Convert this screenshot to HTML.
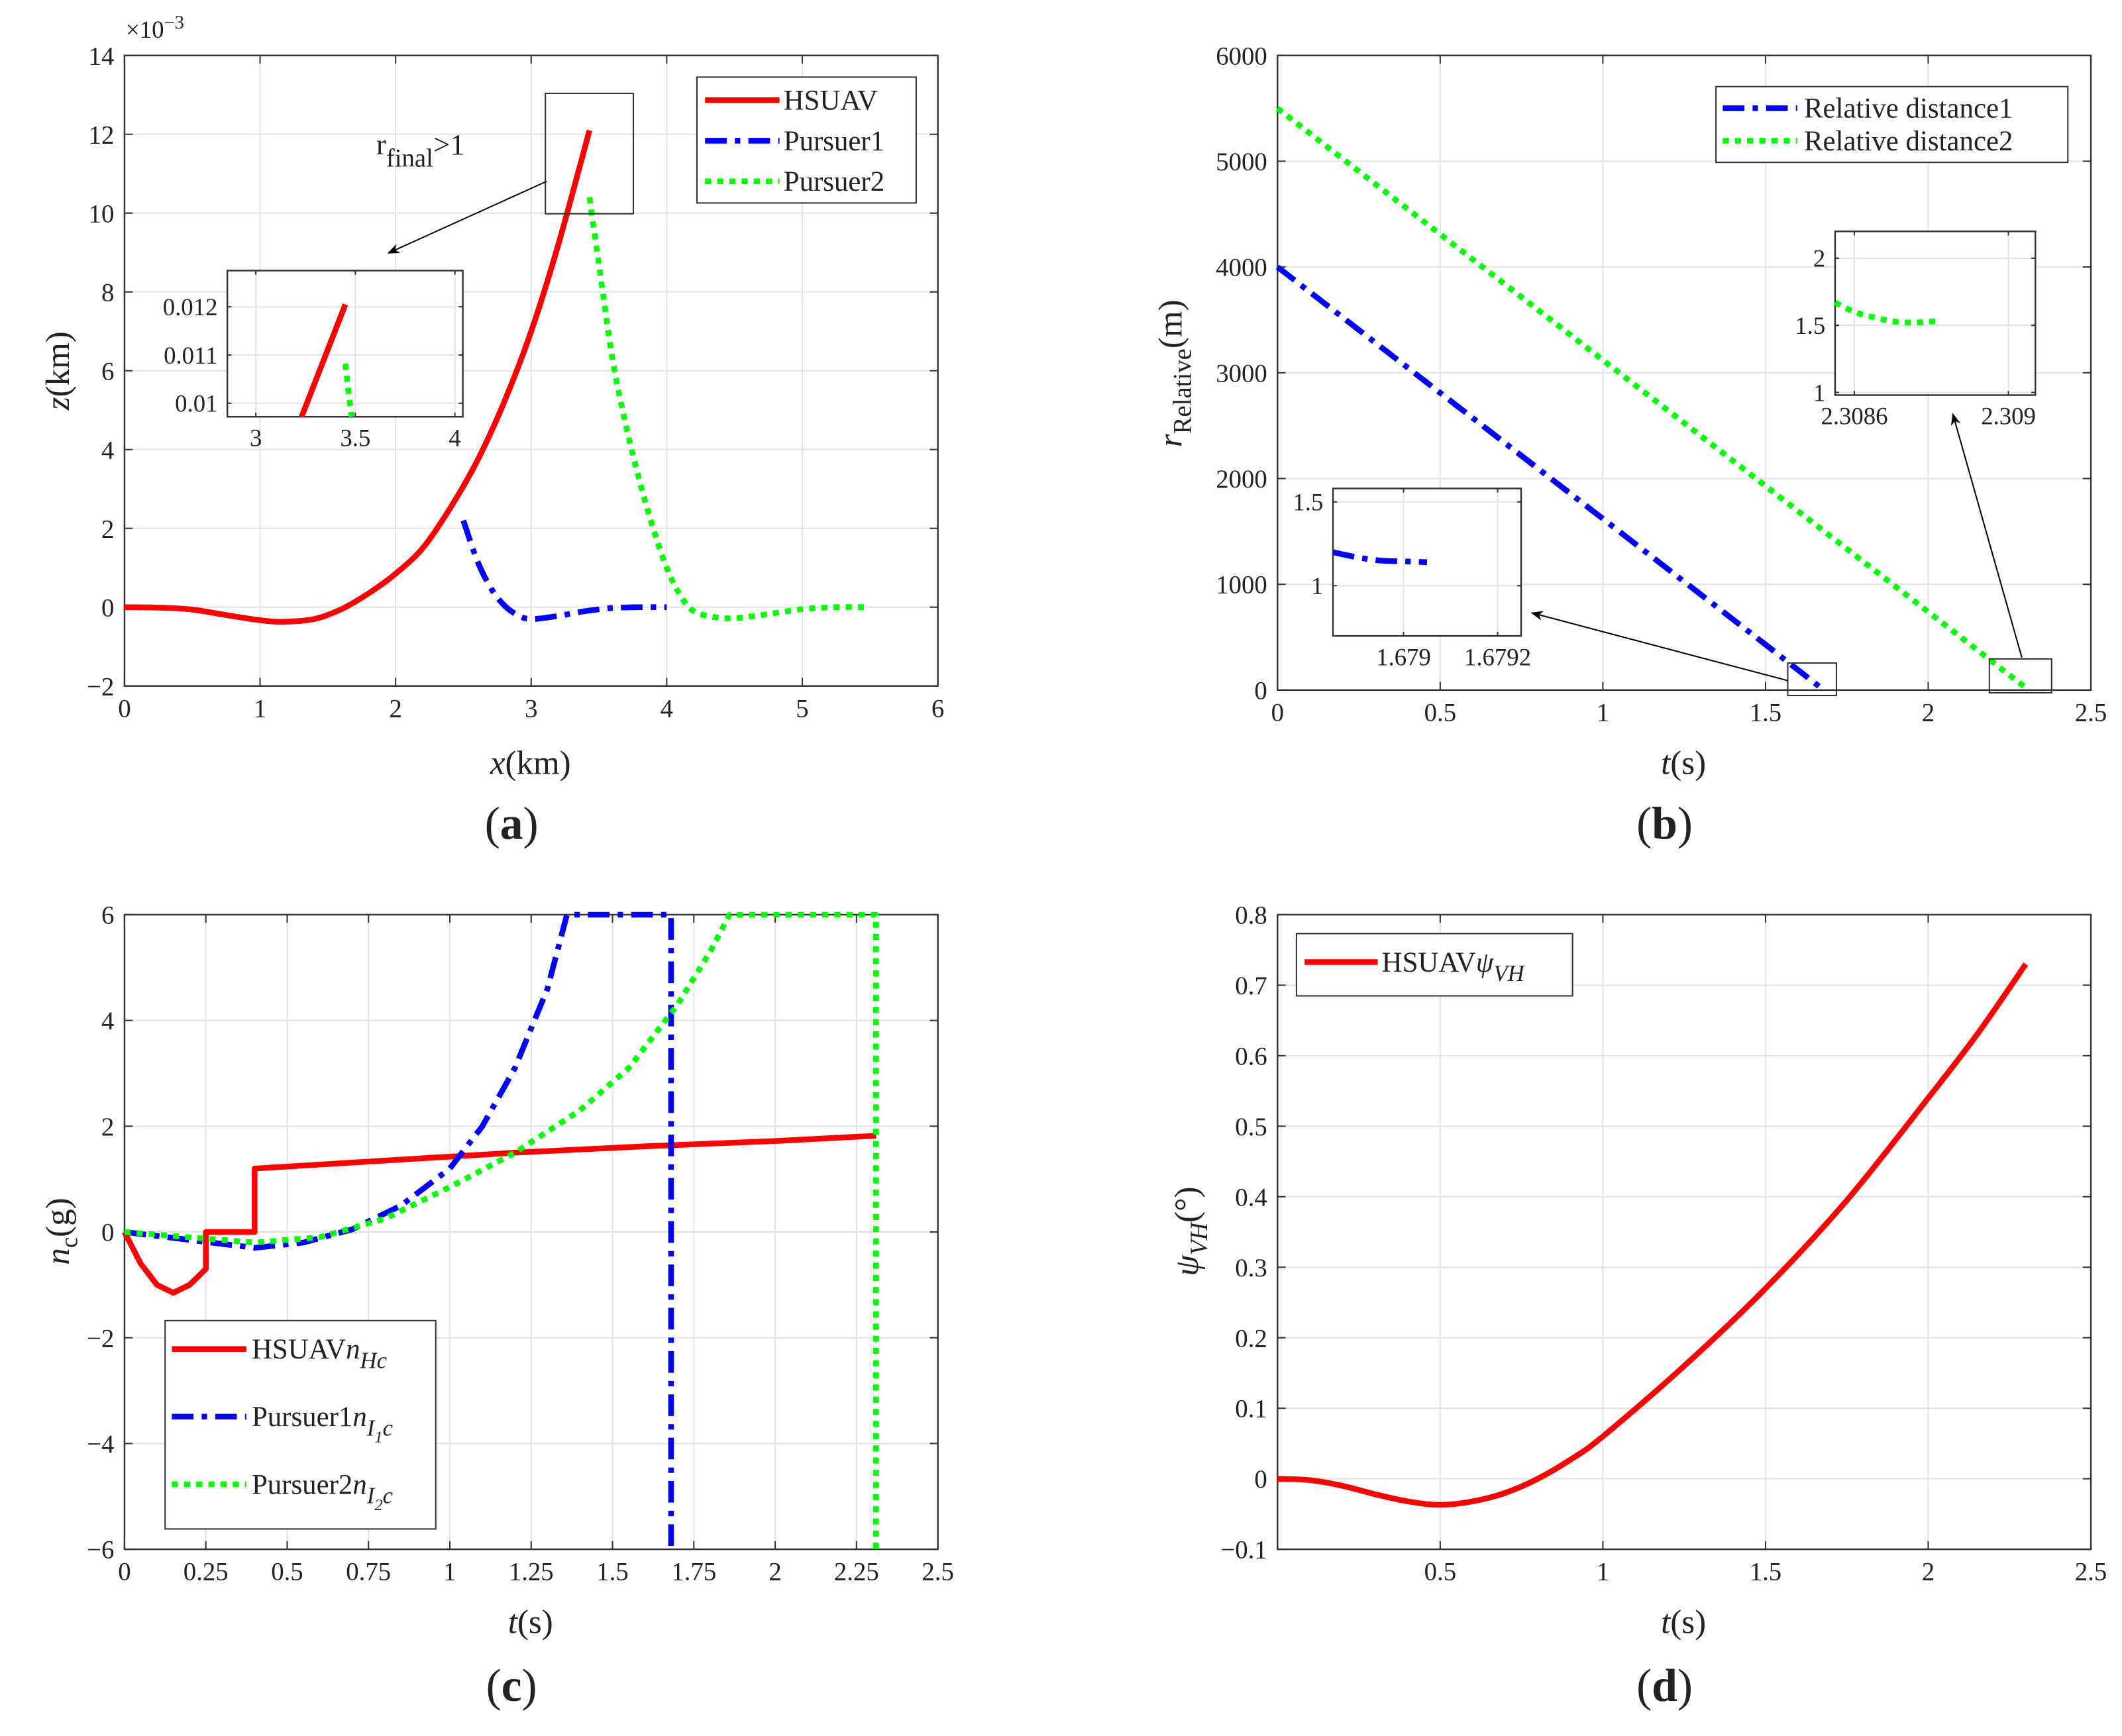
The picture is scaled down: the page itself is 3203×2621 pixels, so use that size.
<!DOCTYPE html>
<html><head><meta charset="utf-8"><style>
html,body{margin:0;padding:0;background:#fff;}
svg{display:block;font-family:"Liberation Serif",serif;}
text{font-family:"Liberation Serif",serif;fill:#222;}
</style></head><body>
<svg id="fig" width="3203" height="2621" viewBox="0 0 1568 1283" preserveAspectRatio="none" xmlns="http://www.w3.org/2000/svg" font-family="Liberation Serif, serif">
<defs><marker id="arr" viewBox="0 0 10 10" refX="9" refY="5" markerWidth="9" markerHeight="9" orient="auto-start-reverse"><path d="M0,1 L10,5 L0,9 L3,5 z" fill="#000"/></marker></defs>
</svg>
<script>
// Panel (a) data
const aHsuavX=[0,0.25,0.5,0.75,1,1.17,1.4,1.6,1.8,2,2.2,2.4,2.6,2.8,3,3.2,3.43];
const aHsuavZ=[0,-0.01,-0.06,-0.2,-0.33,-0.37,-0.3,-0.05,0.35,0.85,1.5,2.5,3.7,5.2,7.0,9.2,12.1];
const aP1X=[2.5,2.6,2.7,2.8,2.9,3,3.2,3.4,3.6,3.8,4];
const aP1Z=[2.2,1.2,0.5,0.05,-0.2,-0.3,-0.22,-0.1,-0.02,0,0];
const aP2X=[3.43,3.5,3.6,3.7,3.8,3.9,4,4.1,4.2,4.35,4.5,4.7,5,5.25,5.5];
const aP2Z=[10.4,8.7,6.3,4.6,3.2,2.0,1.0,0.3,-0.1,-0.25,-0.28,-0.2,-0.05,0,0];
const aXTicks=[0,1,2,3,4,5,6];
const aYTicks=[-2,0,2,4,6,8,10,12,14];
const aInsetRedX=[3.23,3.45];
const aInsetRedZ=[0.00972,0.01205];
const aInsetGreenX=[3.45,3.48];
const aInsetGreenZ=[0.01082,0.00972];
// Panel (b) data
const bR1T=[0,0.5,1,1.5,1.679];
const bR1=[4000,2810,1620,430,0];
const bR2T=[0,0.5,1,1.5,2,2.309];
const bR2=[5500,4310,3120,1930,740,0];
const bXTicks=[0,0.5,1,1.5,2,2.5];
const bYTicks=[0,1000,2000,3000,4000,5000,6000];
const bIn1T=[1.67885,1.6789,1.67895,1.679,1.67905];
const bIn1R=[1.2,1.17,1.15,1.145,1.14];
const bIn2T=[2.30855,2.3086,2.30865,2.3087,2.30875,2.30881];
const bIn2R=[1.67,1.6,1.56,1.53,1.52,1.53];
// Panel (c) data
const cHT=[0,0.05,0.1,0.15,0.2,0.25,0.25,0.4,0.4,0.8,1.2,1.6,2,2.31];
const cHN=[0,-0.6,-1.0,-1.15,-1.0,-0.7,0,0,1.2,1.35,1.5,1.62,1.72,1.82];
const cP1T=[0,0.2,0.4,0.55,0.7,0.85,1,1.1,1.2,1.3,1.36,1.68,1.68];
const cP1N=[0,-0.15,-0.3,-0.2,0.05,0.5,1.2,2,3.1,4.6,6,6,-6];
const cP2T=[0,0.2,0.4,0.6,0.8,1,1.2,1.4,1.55,1.7,1.8,1.86,2.31,2.31];
const cP2N=[0,-0.1,-0.2,-0.1,0.25,0.85,1.5,2.3,3.1,4.3,5.3,6,6,-6];
const cXTicks=[0,0.25,0.5,0.75,1,1.25,1.5,1.75,2,2.25,2.5];
const cYTicks=[-6,-4,-2,0,2,4,6];
// Panel (d) data
const dT=[0,0.1,0.2,0.3,0.4,0.5,0.6,0.7,0.8,0.9,1,1.25,1.5,1.75,2,2.15,2.3];
const dPsi=[0,-0.002,-0.01,-0.022,-0.032,-0.037,-0.032,-0.02,0,0.027,0.06,0.16,0.27,0.395,0.54,0.63,0.73];
const dXTicks=[0.5,1,1.5,2,2.5];
const dYTicks=[-0.1,0,0.1,0.2,0.3,0.4,0.5,0.6,0.7,0.8];

const NS="http://www.w3.org/2000/svg";
const svg=document.getElementById('fig');
function el(tag,attrs,parent,txt){const e=document.createElementNS(NS,tag);for(const k in attrs)e.setAttribute(k,attrs[k]);if(txt!==undefined)e.textContent=txt;(parent||svg).appendChild(e);return e;}
function scale(d0,d1,r0,r1){return v=>r0+(v-d0)/(d1-d0)*(r1-r0);}
const RED='#ff0000',BLUE='#0000ff',GREEN='#00ff00';
const STY={red:{stroke:RED,'stroke-width':4.2},blue:{stroke:BLUE,'stroke-width':4.2,'stroke-dasharray':'16,6,4,6'},green:{stroke:GREEN,'stroke-width':4.2,'stroke-dasharray':'4.5,4.5'}};

function axes(g,box,xd,yd,xt,yt,fmtx,fmty,fs,grid){
  const sx=scale(xd[0],xd[1],box[0],box[2]),sy=scale(yd[0],yd[1],box[3],box[1]);
  el('rect',{x:box[0],y:box[1],width:box[2]-box[0],height:box[3]-box[1],fill:'#fff',stroke:'none'},g);
  if(grid!==false){
    xt.forEach(v=>{const gl=el('line',{x1:sx(v),x2:sx(v),y1:box[1],y2:box[3],stroke:'#e3e3e3','stroke-width':1},g);});
    yt.forEach(v=>{const gl=el('line',{x1:box[0],x2:box[2],y1:sy(v),y2:sy(v),stroke:'#e3e3e3','stroke-width':1},g);});
  }
  const tl=Math.max(3,(box[2]-box[0])/100);
  xt.forEach(v=>{
    el('line',{x1:sx(v),x2:sx(v),y1:box[3],y2:box[3]-tl,stroke:'#333'},g);
    el('line',{x1:sx(v),x2:sx(v),y1:box[1],y2:box[1]+tl,stroke:'#333'},g);
    const t=el('text',{x:sx(v),y:box[3]+fs*1.2,'font-size':fs,'text-anchor':'middle'},g,fmtx(v));
    
  });
  yt.forEach(v=>{
    el('line',{x1:box[0],x2:box[0]+tl,y1:sy(v),y2:sy(v),stroke:'#333'},g);
    el('line',{x1:box[2],x2:box[2]-tl,y1:sy(v),y2:sy(v),stroke:'#333'},g);
    const t=el('text',{x:box[0]-fs*0.4,y:sy(v)+fs*0.35,'font-size':fs,'text-anchor':'end'},g,fmty(v));
    
  });
  el('rect',{x:box[0],y:box[1],width:box[2]-box[0],height:box[3]-box[1],fill:'none',stroke:'#333','stroke-width':1.2},g);
  return [sx,sy];
}
function line(g,sx,sy,xs,ys,st,name,smooth){
  const P=xs.map((x,i)=>[sx(x),sy(ys[i])]);
  let d='M'+P[0][0].toFixed(2)+','+P[0][1].toFixed(2);
  for(let i=1;i<P.length;i++){
    if(smooth){
      const p0=P[Math.max(0,i-2)],p1=P[i-1],p2=P[i],p3=P[Math.min(P.length-1,i+1)];
      const c1=[p1[0]+(p2[0]-p0[0])/6,p1[1]+(p2[1]-p0[1])/6],c2=[p2[0]-(p3[0]-p1[0])/6,p2[1]-(p3[1]-p1[1])/6];
      d+=' C'+c1[0].toFixed(2)+','+c1[1].toFixed(2)+' '+c2[0].toFixed(2)+','+c2[1].toFixed(2)+' '+p2[0].toFixed(2)+','+p2[1].toFixed(2);
    } else d+=' L'+P[i][0].toFixed(2)+','+P[i][1].toFixed(2);
  }
  const p=el('path',Object.assign({d:d,fill:'none','stroke-linejoin':'round'},STY[st]),g);
  
  return p;
}
const mf=v=>(v<0?'\u2212'+Math.abs(v):''+v);

// ===== Panel A =====
const gA=el('g',{});
const [axA,ayA]=axes(gA,[92,41,693,507],[0,6],[-2,14],aXTicks,aYTicks,mf,mf,19);
line(gA,axA,ayA,aHsuavX,aHsuavZ,'red','hsuav-line',true);
line(gA,axA,ayA,aP1X,aP1Z,'blue','pursuer1-line',true);
line(gA,axA,ayA,aP2X,aP2Z,'green','pursuer2-line',true);
el('text',{x:93,y:28,'font-size':18},gA).innerHTML='\u00d710<tspan dy="-7" font-size="14">\u22123</tspan>';
const xa=el('text',{x:392,y:572,'font-size':25,'text-anchor':'middle'},gA);xa.innerHTML='<tspan font-style="italic">x</tspan>(km)';

const ya=el('text',{x:0,y:0,'font-size':25,'text-anchor':'middle',transform:'translate(51,274) rotate(-90)'},gA);ya.innerHTML='<tspan font-style="italic">z</tspan>(km)';

el('rect',{x:403,y:69,width:65,height:89,fill:'none',stroke:'#333','stroke-width':1},gA);
el('line',{x1:404,y1:134,x2:287,y2:187,stroke:'#000','stroke-width':1,'marker-end':'url(#arr)'},gA);
const rf=el('text',{x:278,y:114,'font-size':22},gA);rf.innerHTML='r<tspan dy="9" font-size="19">final</tspan><tspan dy="-9">&gt;1</tspan>';

// inset a
const gAi=el('g',{},gA);
const [ixA,iyA]=axes(gAi,[168,200,342,308],[2.857,4.04],[0.00972,0.01275],[3,3.5,4],[0.01,0.011,0.012],v=>''+v,v=>''+v,18);
line(gAi,ixA,iyA,aInsetRedX,aInsetRedZ,'red','inset-hsuav-line');
line(gAi,ixA,iyA,aInsetGreenX,aInsetGreenZ,'green','inset-pursuer2-line');
// legend a
const lgA=el('g',{},gA);
el('rect',{x:515,y:57,width:162,height:93,fill:'#fff',stroke:'#333','stroke-width':1},lgA);
[['red','HSUAV'],['blue','Pursuer1'],['green','Pursuer2']].forEach((e,i)=>{const y=74+i*30;
 el('line',Object.assign({x1:521,x2:576,y1:y,y2:y},STY[e[0]]),lgA);
 const t=el('text',{x:579,y:y+7,'font-size':21},lgA,e[1]);});
el('text',{x:378,y:620,'font-size':34,'text-anchor':'middle'},gA).innerHTML='(<tspan font-weight="bold">a</tspan>)';

// ===== Panel B =====
const gB=el('g',{});
const [bx,by]=axes(gB,[944,41,1545,510],[0,2.5],[0,6000],bXTicks,bYTicks,v=>''+v,v=>''+v,19);
line(gB,bx,by,bR1T,bR1,'blue','relative-distance1-line');
line(gB,bx,by,bR2T,bR2,'green','relative-distance2-line');
const xb=el('text',{x:1244,y:572,'font-size':25,'text-anchor':'middle'},gB);xb.innerHTML='<tspan font-style="italic">t</tspan>(s)';

const yb=el('text',{x:0,y:0,'font-size':25,'text-anchor':'middle',transform:'translate(873,276) rotate(-90)'},gB);yb.innerHTML='<tspan font-style="italic">r</tspan><tspan dy="7" font-size="19">Relative</tspan><tspan dy="-7">(m)</tspan>';

el('rect',{x:1321,y:490,width:36,height:24,fill:'none',stroke:'#333'},gB);
el('rect',{x:1470,y:487,width:46,height:25,fill:'none',stroke:'#333'},gB);
el('line',{x1:1321,y1:503,x2:1132,y2:453,stroke:'#000','stroke-width':1,'marker-end':'url(#arr)'},gB);
el('line',{x1:1494,y1:486,x2:1443,y2:306,stroke:'#000','stroke-width':1,'marker-end':'url(#arr)'},gB);
const gBi1=el('g',{},gB);
const [i1x,i1y]=axes(gBi1,[985,361,1124,470],[1.67885,1.67925],[0.7,1.58],[1.679,1.6792],[1,1.5],v=>''+v,v=>''+v,18);
line(gBi1,i1x,i1y,bIn1T,bIn1R,'blue','inset-distance1-line',true);
const gBi2=el('g',{},gB);
const [i2x,i2y]=axes(gBi2,[1356,171,1504,292],[2.30855,2.30907],[0.98,2.2],[2.3086,2.309],[1,1.5,2],v=>''+v,v=>''+v,18);
line(gBi2,i2x,i2y,bIn2T,bIn2R,'green','inset-distance2-line',true);
const lgB=el('g',{},gB);
el('rect',{x:1268,y:64,width:260,height:56,fill:'#fff',stroke:'#333'},lgB);
[['blue','Relative distance1'],['green','Relative distance2']].forEach((e,i)=>{const y=80+i*24;
 el('line',Object.assign({x1:1273,x2:1328,y1:y,y2:y},STY[e[0]]),lgB);
 const t=el('text',{x:1333,y:y+7,'font-size':21},lgB,e[1]);});
el('text',{x:1230,y:620,'font-size':34,'text-anchor':'middle'},gB).innerHTML='(<tspan font-weight="bold">b</tspan>)';

// ===== Panel C =====
const gC=el('g',{});
const [cx,cy]=axes(gC,[92,676,693,1145],[0,2.5],[-6,6],cXTicks,cYTicks,v=>''+v,mf,19);
line(gC,cx,cy,cHT,cHN,'red','hsuav-nc-line');
line(gC,cx,cy,cP1T,cP1N,'blue','pursuer1-nc-line');
line(gC,cx,cy,cP2T,cP2N,'green','pursuer2-nc-line');
const xc=el('text',{x:392,y:1207,'font-size':25,'text-anchor':'middle'},gC);xc.innerHTML='<tspan font-style="italic">t</tspan>(s)';

const yc=el('text',{x:0,y:0,'font-size':25,'text-anchor':'middle',transform:'translate(51,910) rotate(-90)'},gC);yc.innerHTML='<tspan font-style="italic">n</tspan><tspan dy="6" font-size="18">c</tspan><tspan dy="-6">(g)</tspan>';

const lgC=el('g',{},gC);
el('rect',{x:122,y:976,width:200,height:154,fill:'#fff',stroke:'#333'},lgC);
const cl=['HSUAV<tspan font-style="italic">n</tspan><tspan dy="7" font-size="17" font-style="italic">Hc</tspan>',
 'Pursuer1<tspan font-style="italic">n</tspan><tspan dy="7" font-size="17" font-style="italic">I</tspan><tspan dy="5" font-size="12" font-style="italic">1</tspan><tspan dy="-5" font-size="17" font-style="italic">c</tspan>',
 'Pursuer2<tspan font-style="italic">n</tspan><tspan dy="7" font-size="17" font-style="italic">I</tspan><tspan dy="5" font-size="12" font-style="italic">2</tspan><tspan dy="-5" font-size="17" font-style="italic">c</tspan>'];
['red','blue','green'].forEach((s,i)=>{const y=997+i*50;
 el('line',Object.assign({x1:127,x2:182,y1:y,y2:y},STY[s]),lgC);
 const t=el('text',{x:186,y:y+7,'font-size':21},lgC);t.innerHTML=cl[i];});
el('text',{x:378,y:1257,'font-size':34,'text-anchor':'middle'},gC).innerHTML='(<tspan font-weight="bold">c</tspan>)';

// ===== Panel D =====
const gD=el('g',{});
const [dx,dy]=axes(gD,[944,676,1545,1145],[0,2.5],[-0.1,0.8],dXTicks,dYTicks,v=>''+v,v=>mf(v),19);
line(gD,dx,dy,dT,dPsi,'red','hsuav-psi-line',true);
const xd=el('text',{x:1244,y:1207,'font-size':25,'text-anchor':'middle'},gD);xd.innerHTML='<tspan font-style="italic">t</tspan>(s)';

const yd=el('text',{x:0,y:0,'font-size':25,'text-anchor':'middle',transform:'translate(885,910) rotate(-90)'},gD);yd.innerHTML='<tspan font-style="italic">ψ</tspan><tspan dy="7" font-size="18" font-style="italic">VH</tspan><tspan dy="-7">(°)</tspan>';

const lgD=el('g',{},gD);
el('rect',{x:958,y:690,width:204,height:46,fill:'#fff',stroke:'#333'},lgD);
el('line',Object.assign({x1:964,x2:1018,y1:711,y2:711},STY.red),lgD);
const td=el('text',{x:1021,y:718,'font-size':21},lgD);td.innerHTML='HSUAV<tspan font-style="italic">ψ</tspan><tspan dy="7" font-size="17" font-style="italic">VH</tspan>';

el('text',{x:1230,y:1257,'font-size':34,'text-anchor':'middle'},gD).innerHTML='(<tspan font-weight="bold">d</tspan>)';
</script>
</body></html>
